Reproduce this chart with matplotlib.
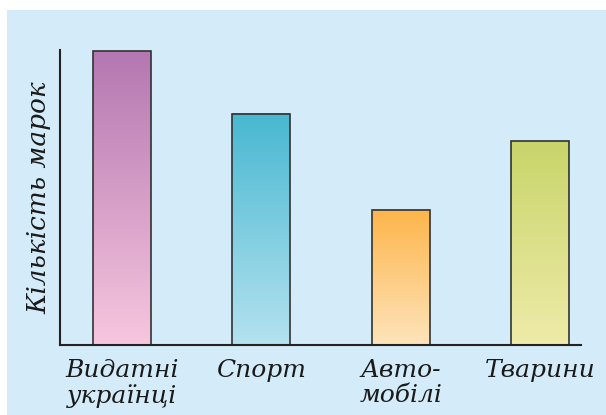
import matplotlib
matplotlib.use("Agg")
import matplotlib.pyplot as plt
import numpy as np
from matplotlib.colors import LinearSegmentedColormap
from matplotlib.patches import Rectangle

categories = ["Видатні\nукраїнці", "Спорт", "Авто-\nмобілі", "Тварини"]
values = [15, 11.8, 6.9, 10.4]
top_colors = ["#b477b1", "#48b8d1", "#fdb54a", "#c8d56a"]
bottom_colors = ["#f7c6de", "#b4e2ef", "#fee4bb", "#efeba9"]

fig = plt.figure(figsize=(6.06, 4.15), dpi=100, facecolor="white")
# light blue panel
fig.patches.append(Rectangle((7/606, 0), 1 - 7/606, 1 - 10/415, transform=fig.transFigure,
                             facecolor="#d4ecf9", edgecolor="none", zorder=-10))

ax = fig.add_axes([60/606, 70/415, 521/606, 295/415])
ax.set_facecolor("none")
ax.set_zorder(5)

x = np.arange(len(categories))
bars = ax.bar(x, values, width=0.416, facecolor="none", edgecolor="#333333", linewidth=1.2, zorder=3)
for b, tc, bc in zip(bars, top_colors, bottom_colors):
    cmap = LinearSegmentedColormap.from_list("g", [bc, tc])
    grad = np.linspace(0, 1, 256).reshape(-1, 1)
    x0, w, h = b.get_x(), b.get_width(), b.get_height()
    ax.imshow(grad, cmap=cmap, aspect="auto", origin="lower",
              extent=(x0, x0 + w, 0, h), zorder=2)

ax.set_xlim(-0.444, 3.294)
ax.set_ylim(0, values[0] * 295 / 294)

for s in ["top", "right"]:
    ax.spines[s].set_visible(False)
for s in ["left", "bottom"]:
    ax.spines[s].set_color("#222222")
    ax.spines[s].set_linewidth(1.5)
    ax.spines[s].set_zorder(4)

ax.set_yticks([])
ax.set_xticks(x)
ax.set_xticklabels(categories, fontsize=18, family="DejaVu Serif", style="italic",
                   color="#1a1a1a", linespacing=1.12)
ax.tick_params(axis="x", length=0, pad=10)
ax.set_ylabel("Кількість марок", fontsize=19, family="DejaVu Serif", style="italic",
              color="#1a1a1a", labelpad=6)

fig.savefig("out.png", dpi=100)
